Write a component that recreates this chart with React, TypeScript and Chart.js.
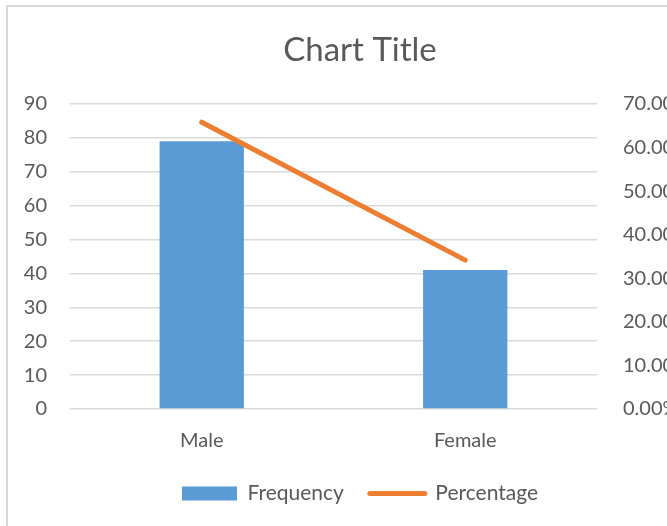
import React, { useEffect, useRef } from "react";
import { Chart, registerables } from "chart.js";

Chart.register(...registerables);

const categories = ["Male", "Female"];
const frequency = [79, 41];
const percentage = [65.83, 34.17];
const leftTicks = [0, 10, 20, 30, 40, 50, 60, 70, 80, 90];
const rightTicks = [0, 10, 20, 30, 40, 50, 60, 70];

const TEXT = "#595959";
const GRID = "#d9d9d9";
const BLUE = "#5B9BD5";
const ORANGE = "#ED7D31";
const FONT = "Lato";

export default function App() {
  const ref = useRef<HTMLCanvasElement | null>(null);

  useEffect(() => {
    if (!ref.current) return;
    const chart = new Chart(ref.current, {
      type: "bar",
      data: {
        labels: categories,
        datasets: [
          {
            type: "bar",
            label: "Frequency",
            data: frequency,
            backgroundColor: BLUE,
            borderWidth: 0,
            yAxisID: "y",
            order: 2,
            categoryPercentage: 1,
            barPercentage: 0.32,
          },
          {
            type: "line",
            label: "Percentage",
            data: percentage,
            borderColor: ORANGE,
            backgroundColor: ORANGE,
            borderWidth: 5,
            borderCapStyle: "round",
            pointRadius: 0,
            pointHoverRadius: 0,
            yAxisID: "y1",
            order: 1,
          } as any,
        ],
      },
      options: {
        responsive: false,
        animation: false,
        devicePixelRatio: 1,
        layout: { padding: { top: 0, bottom: 12, left: 0, right: 0 } },
        plugins: {
          tooltip: { enabled: false },
          title: {
            display: true,
            text: "Chart Title",
            color: TEXT,
            font: { family: FONT, size: 33, weight: "normal" },
            padding: { top: 30.5, bottom: 33.9 },
          },
          legend: {
            display: true,
            position: "bottom",
            labels: {
              color: TEXT,
              font: { family: FONT, size: 21 },
              usePointStyle: true,
              pointStyleWidth: 55,
              boxHeight: 14,
              padding: 26,
              sort: (a: any, b: any) => a.datasetIndex - b.datasetIndex,
              generateLabels: (c: any) => {
                const items = (Chart.defaults as any).plugins.legend.labels.generateLabels(c);
                items.forEach((it: any) => {
                  if (it.datasetIndex === 1) {
                    it.pointStyle = "line";
                    it.lineCap = "round";
                    it.lineWidth = 5;
                    it.strokeStyle = ORANGE;
                  } else {
                    it.pointStyle = "rect";
                    it.lineWidth = 0;
                    it.fillStyle = BLUE;
                  }
                });
                return items;
              },
            },
          },
        },
        scales: {
          x: {
            grid: { display: false, drawTicks: false },
            border: { display: false },
            ticks: {
              color: TEXT,
              font: { family: FONT, size: 20 },
              padding: 20,
            },
            afterFit: (s: any) => {
              s.height = 48;
            },
          },
          y: {
            position: "left",
            min: 0,
            max: 90,
            afterBuildTicks: (s: any) => {
              s.ticks = leftTicks.map((v) => ({ value: v }));
            },
            grid: { color: GRID, lineWidth: 1.5, drawTicks: false },
            border: { display: false },
            ticks: {
              color: TEXT,
              font: { family: FONT, size: 20 },
              padding: 23,
            },
            afterFit: (s: any) => {
              s.width = 70;
            },
          },
          y1: {
            position: "right",
            min: 0,
            max: 70,
            afterBuildTicks: (s: any) => {
              s.ticks = rightTicks.map((v) => ({ value: v }));
            },
            grid: { display: false, drawTicks: false },
            border: { display: false },
            ticks: {
              color: TEXT,
              font: { family: FONT, size: 20 },
              padding: 26,
              callback: (v: any) => Number(v).toFixed(2) + "%",
            },
            afterFit: (s: any) => {
              s.width = 123;
            },
          },
        },
      },
    });
    return () => chart.destroy();
  }, []);

  return (
    <div
      style={{
        position: "fixed",
        left: 0,
        top: 0,
        width: 667,
        height: 526,
        overflow: "hidden",
        background: "#fff",
      }}
    >
      <canvas
        ref={ref}
        width={720}
        height={526}
        style={{ position: "absolute", left: 0, top: 0, width: 720, height: 526 }}
      />
      <div
        style={{
          position: "absolute",
          left: 6,
          top: 5,
          width: 800,
          height: 800,
          borderLeft: "2px solid #d9d9d9",
          borderTop: "2px solid #d9d9d9",
          boxSizing: "border-box",
          pointerEvents: "none",
        }}
      />
    </div>
  );
}
